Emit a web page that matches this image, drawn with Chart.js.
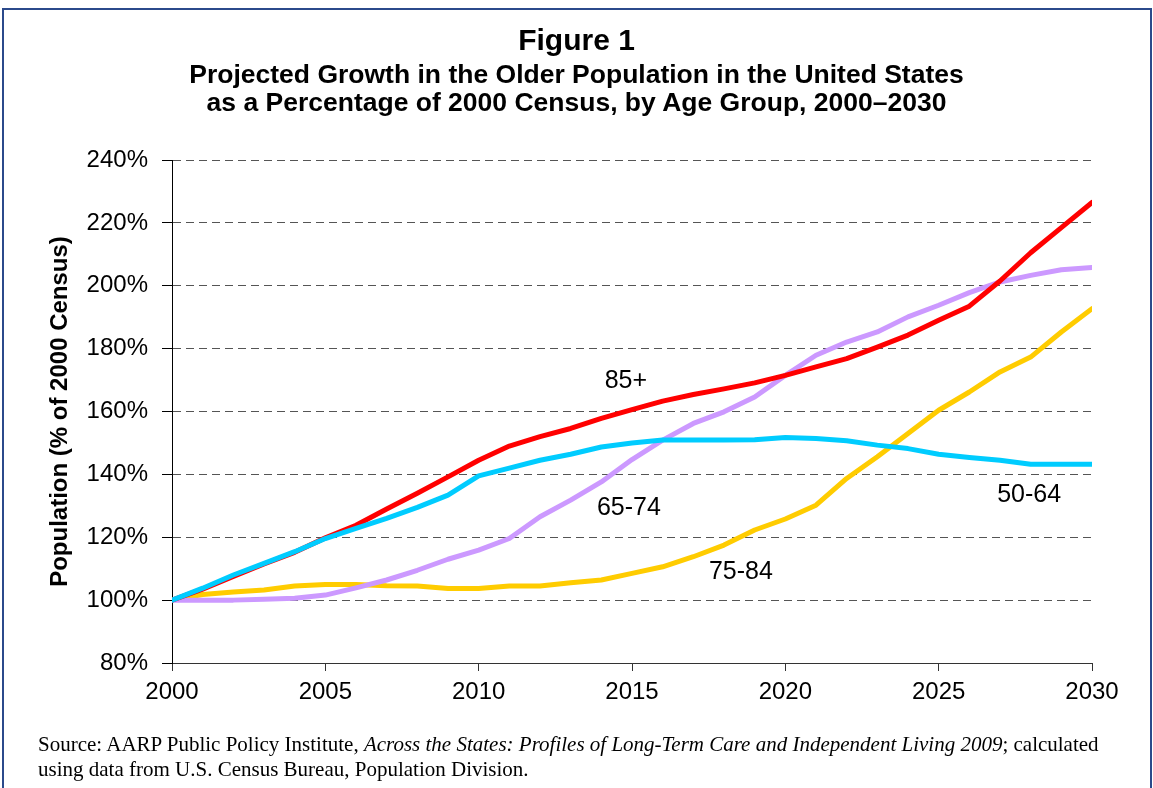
<!DOCTYPE html>
<html>
<head>
<meta charset="utf-8">
<script src="https://cdn.jsdelivr.net/npm/chart.js@4.4.0/dist/chart.umd.min.js"></script>
<style>
  body { margin: 0; width: 1153px; height: 788px; overflow: hidden; background: #fff; position: relative; }
  #frame { position: absolute; left: 2px; top: 8px; width: 1146px; height: 800px; border: 2px solid #2b4a8b; }
  #chart { position: absolute; left: 0; top: 0; }
  .title { position: absolute; left: 0; width: 1153px; text-align: center; font-family: "Liberation Sans", Arial, sans-serif; font-weight: bold; color: #000; white-space: nowrap; }
  #t1 { top: 23px; font-size: 30px; line-height: 34px; }
  #t2 { top: 60px; font-size: 26.5px; line-height: 28px; }
  #source { position: absolute; left: 38px; top: 732px; font-family: "Liberation Serif", "Times New Roman", serif; font-size: 21px; line-height: 25px; color: #000; white-space: nowrap; }
</style>
</head>
<body>
<div id="frame"></div>
<canvas id="chart" width="1153" height="788"></canvas>
<div class="title" id="t1">Figure 1</div>
<div class="title" id="t2">Projected Growth in the Older Population in the United States<br>as a Percentage of 2000 Census, by Age Group, 2000–2030</div>
<div id="source">Source: AARP Public Policy Institute, <i>Across the States: Profiles of Long-Term Care and Independent Living 2009</i>; calculated<br>using data from U.S. Census Bureau, Population Division.</div>
<script>
const years = [2000, 2001, 2002, 2003, 2004, 2005, 2006, 2007, 2008, 2009, 2010,
  2011, 2012, 2013, 2014, 2015, 2016, 2017, 2018, 2019, 2020,
  2021, 2022, 2023, 2024, 2025, 2026, 2027, 2028, 2029, 2030];

// % of 2000 census
const age5064 = [100, 103.8, 108, 111.7, 115.4, 119.6, 122.8, 126, 129.5, 133.4, 139.5,
  142, 144.5, 146.4, 148.7, 150, 150.9, 150.9, 150.9, 151, 151.7,
  151.4, 150.7, 149.3, 148.2, 146.4, 145.4, 144.5, 143.2, 143.2, 143.2];
const age85 = [100, 103.5, 107.5, 111.5, 115.2, 119.8, 123.8, 129, 134, 139.2, 144.5,
  149, 152, 154.6, 157.8, 160.6, 163.3, 165.4, 167.2, 169.1, 171.5,
  174.2, 176.8, 180.5, 184.3, 189, 193.5, 201.5, 210.5, 218.5, 226.5];
const age6574 = [100, 100, 100, 100.3, 100.6, 101.6, 103.9, 106.4, 109.5, 113, 115.9,
  119.6, 126.5, 131.8, 137.6, 144.7, 150.9, 156.2, 159.9, 164.6, 171.5,
  177.9, 182.1, 185.3, 190.1, 193.8, 197.8, 201.2, 203.3, 205.1, 205.8];
const age7584 = [100, 101.8, 102.6, 103.2, 104.5, 105, 105, 104.6, 104.5, 103.7, 103.7,
  104.5, 104.5, 105.5, 106.4, 108.5, 110.6, 113.8, 117.5, 122.3, 125.8,
  130.2, 138.7, 145.6, 153, 160.4, 166.2, 172.6, 177.3, 185.3, 192.7];

// in-chart series labels (year, value)
const labelNames = ['85+', '65-74', '75-84', '50-64'];
const labelYears = [2014.8, 2014.9, 2018.55, 2027.95];
const labelValues = [169.6, 129.3, 108.9, 133.4];

const FONT = '"Liberation Sans", Arial, sans-serif';

function pts(values) {
  return years.map((y, i) => ({ x: y, y: values[i] }));
}

function series(label, values, color) {
  return {
    label: label,
    data: pts(values),
    borderColor: color,
    backgroundColor: color,
    borderWidth: 5,
    pointRadius: 0,
    tension: 0,
    borderJoinStyle: 'round',
    borderCapStyle: 'round'
  };
}

const seriesLabels = {
  id: 'seriesLabels',
  afterDatasetsDraw(chart) {
    const ctx = chart.ctx;
    const xs = chart.scales.x;
    const ys = chart.scales.y;
    ctx.save();
    ctx.font = '25px ' + FONT;
    ctx.fillStyle = '#000';
    ctx.textAlign = 'center';
    ctx.textBaseline = 'middle';
    for (let i = 0; i < labelNames.length; i++) {
      ctx.fillText(labelNames[i], xs.getPixelForValue(labelYears[i]), ys.getPixelForValue(labelValues[i]));
    }
    ctx.restore();
  }
};

const ctx = document.getElementById('chart').getContext('2d');
new Chart(ctx, {
  type: 'line',
  data: {
    datasets: [
      series('50-64', age5064, '#00ccff'),
      series('85+', age85, '#ff0000'),
      series('65-74', age6574, '#cc99ff'),
      series('75-84', age7584, '#ffcc00')
    ]
  },
  options: {
    responsive: false,
    animation: false,
    devicePixelRatio: 1,
    layout: { padding: { top: 160, left: 42, right: 61, bottom: 80 } },
    plugins: {
      legend: { display: false },
      tooltip: { enabled: false }
    },
    scales: {
      x: {
        type: 'linear',
        min: 2000,
        max: 2030,
        afterFit(scale) { scale.height = 45; },
        ticks: {
          stepSize: 5,
          padding: 7,
          color: '#000',
          font: { family: FONT, size: 24 },
          maxRotation: 0,
          callback: (v) => String(v)
        },
        grid: { drawOnChartArea: false, drawTicks: true, tickLength: 8, tickColor: '#333' },
        border: { display: true, color: '#333', width: 1 }
      },
      y: {
        min: 80,
        max: 240,
        afterFit(scale) { scale.width = 130; },
        ticks: {
          stepSize: 20,
          padding: 14,
          color: '#000',
          font: { family: FONT, size: 24 },
          callback: (v) => v + '%'
        },
        grid: { color: '#555', lineWidth: 1, tickLength: 10, tickColor: '#000', tickBorderDash: [] },
        border: { display: true, color: '#000', width: 1, dash: [8, 5] },
        title: {
          display: true,
          text: 'Population (% of 2000 Census)',
          color: '#000',
          font: { family: FONT, size: 24, weight: 'bold' },
          padding: { top: 4, bottom: 4 }
        }
      }
    }
  },
  plugins: [seriesLabels]
});
</script>
</body>
</html>
